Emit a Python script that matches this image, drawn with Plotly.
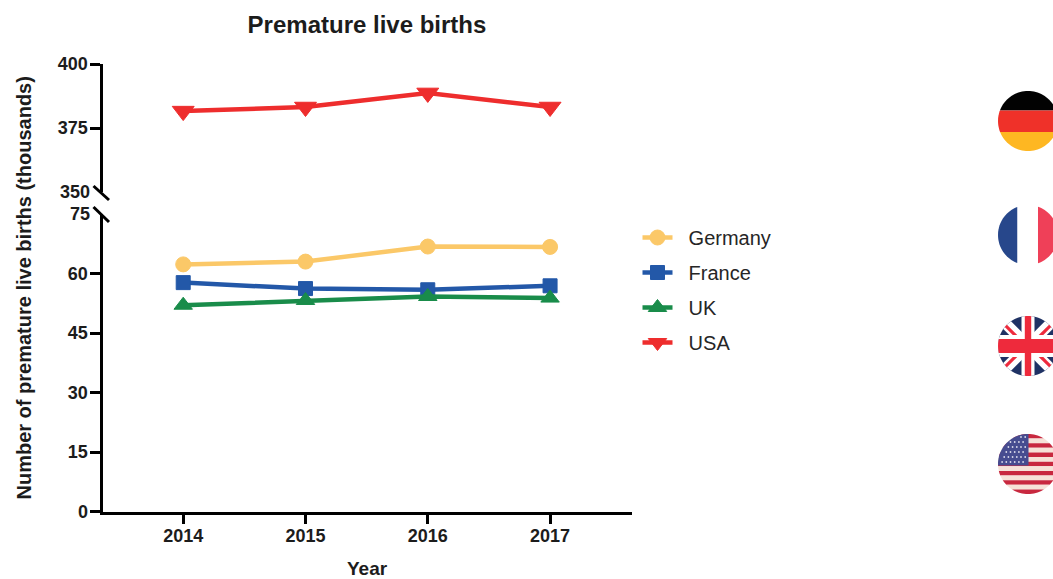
import math
import plotly.graph_objects as go

W, H = 1053, 579

years = [2014, 2015, 2016, 2017]
germany = [62.3, 63.0, 66.8, 66.7]
france = [57.7, 56.2, 55.9, 56.9]
uk = [52.0, 53.2, 54.2, 53.8]
usa = [381.6, 383.2, 388.7, 383.2]

lower_ticks = [0, 15, 30, 45, 60]
upper_ticks = [375, 400]
break_labels = [("350", "y2", 350), ("75", "y", 75)]

FONT = "Liberation Sans, Arial, sans-serif"
INK = "#1c1c1c"


def fx(x):
    return x / W


def fy(y):
    return 1 - y / H


fig = go.Figure()


def add_series(name, y, color, symbol, size, axis):
    fig.add_trace(go.Scatter(
        x=years, y=y, name="\u00a0\u00a0" + name, yaxis=axis, mode="lines+markers",
        legendgroup=name, cliponaxis=False,
        line=dict(color=color, width=4.5),
        marker=dict(color=color, symbol=symbol, size=size, line=dict(width=1, color=color)),
    ))


add_series("Germany", germany, "#FBC868", "circle", 15, "y")
add_series("France", france, "#2358A8", "square", 14, "y")
add_series("UK", uk, "#198C4A", "triangle-up", 16, "y")
add_series("USA", usa, "#EE2D2D", "triangle-down", 19, "y2")

shapes = []


# ---- flags: convex pieces clipped to a circle ----
def circle_poly(cx, cy, r, n=96):
    return [(cx + r * math.cos(2 * math.pi * i / n), cy + r * math.sin(2 * math.pi * i / n)) for i in range(n)]


def clip(subject, clipper):
    out = subject
    n = len(clipper)
    for i in range(n):
        a, b = clipper[i], clipper[(i + 1) % n]
        inside = lambda p: (b[0] - a[0]) * (p[1] - a[1]) - (b[1] - a[1]) * (p[0] - a[0]) >= 0
        inp, out = out, []
        for j, p in enumerate(inp):
            q = inp[(j + 1) % len(inp)]
            ip, iq = inside(p), inside(q)
            if ip:
                out.append(p)
            if ip != iq:
                dx, dy = q[0] - p[0], q[1] - p[1]
                ex, ey = b[0] - a[0], b[1] - a[1]
                t = (ex * (p[1] - a[1]) - ey * (p[0] - a[0])) / (ey * dx - ex * dy)
                out.append((p[0] + t * dx, p[1] + t * dy))
        if not out:
            return []
    return out


def piece(circle, poly, color):
    pts = clip(poly, circle)
    if pts:
        path = "M " + " L ".join(f"{fx(x):.5f} {fy(y):.5f}" for x, y in pts) + " Z"
        shapes.append(dict(type="path", xref="paper", yref="paper", path=path,
                           fillcolor=color, line=dict(width=0), layer="above"))


def rect(x0, y0, x1, y1):
    return [(x0, y0), (x1, y0), (x1, y1), (x0, y1)]


def band(x0, y0, x1, y1, half):
    L = math.hypot(x1 - x0, y1 - y0)
    nx, ny = -(y1 - y0) / L * half, (x1 - x0) / L * half
    return [(x0 + nx, y0 + ny), (x1 + nx, y1 + ny), (x1 - nx, y1 - ny), (x0 - nx, y0 - ny)]


R = 30
FX = 1028

# Germany
c = circle_poly(FX, 121, R)
piece(c, rect(990, 85, 1070, 110.5), "#020202")
piece(c, rect(990, 110.5, 1070, 132), "#EF3129")
piece(c, rect(990, 132, 1070, 155), "#FEB722")

# France
c = circle_poly(FX, 235, R)
piece(c, rect(990, 200, 1017.5, 270), "#27478B")
piece(c, rect(1017.5, 200, 1038, 270), "#FFFFFF")
piece(c, rect(1038, 200, 1070, 270), "#EF4058")

# UK
cy = 346
c = circle_poly(FX, cy, R)
piece(c, rect(990, 310, 1070, 385), "#1F3264")
piece(c, band(FX - 32, cy - 32, FX + 32, cy + 32, 5.5), "#FFFFFF")
piece(c, band(FX - 32, cy + 32, FX + 32, cy - 32, 5.5), "#FFFFFF")
piece(c, band(FX - 26, cy - 24, FX - 8, cy - 6, 1.6), "#EE2A3C")
piece(c, band(FX + 8, cy + 6, FX + 26, cy + 24, 1.6), "#EE2A3C")
piece(c, band(FX - 26, cy + 24, FX - 8, cy + 6, 1.6), "#EE2A3C")
piece(c, band(FX + 8, cy - 6, FX + 26, cy - 24, 1.6), "#EE2A3C")
piece(c, rect(FX - 6.5, 310, FX + 6.5, 385), "#FFFFFF")
piece(c, rect(990, cy - 11, 1070, cy + 11), "#FFFFFF")
piece(c, rect(FX - 3.2, 310, FX + 3.2, 385), "#EE2A3C")
piece(c, rect(990, cy - 7, 1070, cy + 7), "#EE2A3C")

# USA
cy = 464
top = cy - R
c = circle_poly(FX, cy, R)
stripe = 2 * R / 13
for i in range(13):
    colour = "#C8283F" if i % 2 == 0 else "#F6E2D8"
    piece(c, rect(990, top + i * stripe, 1070, top + (i + 1) * stripe), colour)
piece(c, rect(990, top - 1, FX + 0.5, cy + 1.5), "#464C90")
for row in range(6):
    for col in range(7):
        sx = 1000 + col * 4.2 + (row % 2) * 2.1
        sy = top + 3 + row * 5
        if (sx - FX) ** 2 + (sy - cy) ** 2 < (R - 1.5) ** 2 and sx < FX - 1:
            shapes.append(dict(type="circle", xref="paper", yref="paper",
                               x0=fx(sx - 0.9), x1=fx(sx + 0.9), y0=fy(sy + 0.9), y1=fy(sy - 0.9),
                               fillcolor="#D9D9EA", line=dict(width=0), layer="above"))

# ---- axis break marks ----
for y0, y1 in [(186, 200), (207, 222)]:
    shapes.append(dict(type="line", xref="paper", yref="paper",
                       x0=fx(93.5), x1=fx(109), y0=fy(y0), y1=fy(y1),
                       line=dict(color="#000000", width=3), layer="above"))

annotations = [
    dict(text=t, xref="paper", yref=ax, x=fx(91.5), y=v, xanchor="right", yanchor="middle",
         showarrow=False, font=dict(family=FONT, size=18, color=INK, weight="bold"))
    for t, ax, v in break_labels
]
annotations.append(dict(text="Number of premature live births (thousands)",
                        xref="paper", yref="paper", x=fx(23.5), y=fy(288), textangle=-90,
                        xanchor="center", yanchor="middle", showarrow=False,
                        font=dict(family=FONT, size=20, color=INK, weight="bold")))
annotations.append(dict(text="Year", xref="paper", yref="paper", x=fx(367), y=fy(568),
                        xanchor="center", yanchor="middle", showarrow=False,
                        font=dict(family=FONT, size=19, color=INK, weight="bold")))

axis_style = dict(showline=True, linecolor="#000000", linewidth=3, ticks="outside", ticklen=10,
                  tickwidth=3, tickcolor="#000000", showgrid=False, zeroline=False, automargin=False,
                  ticklabelstandoff=-2,
                  tickfont=dict(family=FONT, size=18, color=INK, weight="bold"))

fig.update_layout(
    template="none",
    width=W, height=H, autosize=False,
    margin=dict(l=0, r=0, t=0, b=0),
    paper_bgcolor="white", plot_bgcolor="white",
    title=dict(text="Premature live births", x=fx(367), xanchor="center", y=fy(25), yanchor="middle",
               font=dict(family=FONT, size=24, color=INK, weight="bold")),
    xaxis=dict(domain=[fx(102.5), fx(632)], range=[2013.34, 2017.67], tickmode="array", tickvals=years,
               anchor="y", **{**axis_style, "ticklen": 9, "ticklabelstandoff": -3}),
    yaxis=dict(domain=[fy(511.5), fy(214)], range=[0, 75], tickmode="array", tickvals=lower_ticks,
               anchor="x", **axis_style),
    yaxis2=dict(domain=[fy(192), fy(64)], range=[350, 400], tickmode="array", tickvals=upper_ticks,
                anchor="x", **axis_style),
    legend=dict(x=fx(637.5), y=fy(218), xanchor="left", yanchor="top", tracegroupgap=6,
                font=dict(family=FONT, size=20, color="#262626"), bgcolor="rgba(0,0,0,0)"),
    showlegend=True,
    shapes=shapes,
    annotations=annotations,
)

fig.write_html("out.html", config={"displayModeBar": False},
               post_script="document.body.style.margin='0';")
